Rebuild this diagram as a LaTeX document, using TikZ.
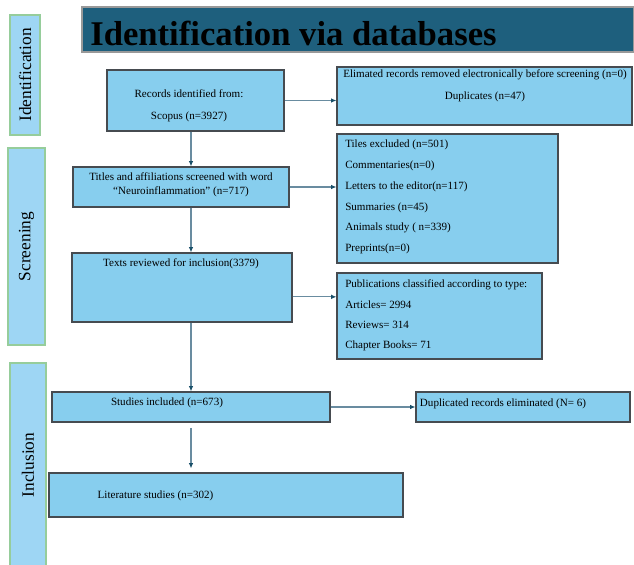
\documentclass[tikz,border=0pt]{standalone}
\usepackage{fontspec}
\setmainfont{Liberation Serif}
\usetikzlibrary{arrows.meta,positioning}
\definecolor{boxfill}{RGB}{135,206,238}
\definecolor{boxline}{RGB}{70,75,80}
\definecolor{sidefill}{RGB}{158,214,244}
\definecolor{sideline}{RGB}{150,205,155}
\definecolor{titlefill}{RGB}{30,95,125}
\definecolor{flowline}{RGB}{105,140,160}
\definecolor{flowtip}{RGB}{25,80,105}
\tikzset{
  box/.style 2 args={draw=boxline, fill=boxfill, line width=0.9pt, inner sep=0pt, minimum width=#1*0.75pt, minimum height=#2*0.75pt},
  side/.style 2 args={draw=sideline, fill=sidefill, line width=0.9pt, inner sep=0pt, minimum width=#1*0.75pt, minimum height=#2*0.75pt},
  txt/.style={font=\fontsize{8.3}{10}\selectfont, inner sep=0pt},
  sidetxt/.style={font=\fontsize{13}{15}\selectfont, rotate=90, inner sep=0pt},
  flow/.style={draw=flowline, line width=0.8pt, -{Latex[length=4pt, width=3.5pt, color=flowtip]}}
}

\begin{document}
\begin{tikzpicture}[x=0.75pt, y=-0.75pt]
\useasboundingbox (0,0) rectangle (634,564);

% phase labels
\node[side={30}{120}] (ident) at (25,75) {};
\node[sidetxt] (identtxt) at (ident) {Identification};
\node[side={37}{197}] (screen) at (26.5,246.5) {};
\node[sidetxt] (screentxt) at (screen) {Screening};
\node[side={36}{204}] (incl) at (28,465) {};
\node[sidetxt] (incltxt) at (28,465) {Inclusion};

% heading
\node[draw=gray!80, fill=titlefill, line width=0.8pt, inner sep=0pt, minimum width=552*0.75pt, minimum height=45*0.75pt] (title) at (358,29.5) {};
\node[font=\fontsize{26}{28}\selectfont\bfseries, anchor=base west, inner sep=0pt] (titletxt) at (90,45) {Identification via databases};

% boxes
\node[box={177}{61}] (records) at (195.5,100.5) {};
\node[txt, align=center, font=\fontsize{8.3}{16.5}\selectfont] (recordstxt) at (189,106) {Records identified from:\\Scopus (n=3927)};
\node[box={295}{58}] (elim) at (484.5,96) {};
\node[txt, align=center, font=\fontsize{8.3}{16.5}\selectfont] (elimtxt) at (485,86) {Elimated records removed electronically before screening (n=0)\\Duplicates (n=47)};
\node[box={216}{40}] (titles) at (181,187) {};
\node[txt, align=center, font=\fontsize{8.3}{10.5}\selectfont] (titlestxt) at (181,185) {Titles and affiliations screened with word\\``Neuroinflammation'' (n=717)};
\node[box={221}{129}] (excl) at (447.5,198.5) {};
\node[txt, align=left, anchor=west, font=\fontsize{8.3}{15.6}\selectfont] (excltxt) at (345,197) {Tiles excluded (n=501)\\Commentaries(n=0)\\Letters to the editor(n=117)\\Summaries (n=45)\\Animals study ( n=339)\\Preprints(n=0)};
\node[box={220}{69}] (texts) at (182,287.5) {};
\node[txt] (textstxt) at (181,264) {Texts reviewed for inclusion(3379)};
\node[box={205}{86}] (pubs) at (439.5,316) {};
\node[txt, align=left, anchor=west, font=\fontsize{8.3}{15.2}\selectfont] (pubstxt) at (345,315.5) {Publications classified according to type:\\Articles= 2994\\Reviews= 314\\Chapter Books= 71};
\node[box={278}{30}] (studies) at (191,407) {};
\node[txt] (studiestxt) at (167,403) {Studies included (n=673)};
\node[box={214}{30}] (dup) at (523,407) {};
\node[txt] (duptxt) at (503,404) {Duplicated records eliminated (N= 6)};
\node[box={354}{44}] (lit) at (226,495) {};
\node[txt] (littxt) at (155.5,496) {Literature studies (n=302)};

% arrows
\coordinate (spine) at (191,0);
\draw[flow] (records.south -| spine) -- (titles.north -| spine);
\draw[flow] (titles.south -| spine) -- (texts.north -| spine);
\draw[flow] (texts.south -| spine) -- (studies.north -| spine);
\draw[flow, shorten <=4pt, shorten >=3pt] (studies.south -| spine) -- (lit.north -| spine);
\draw[flow] (records.east) -- (records.east -| elim.west);
\draw[flow] (titles.east) -- (titles.east -| excl.west);
\draw[flow] ([yshift=-7pt]texts.east) -- ([yshift=-7pt]texts.east -| pubs.west);
\draw[flow] (studies.east) -- (studies.east -| dup.west);
\end{tikzpicture}
\end{document}
